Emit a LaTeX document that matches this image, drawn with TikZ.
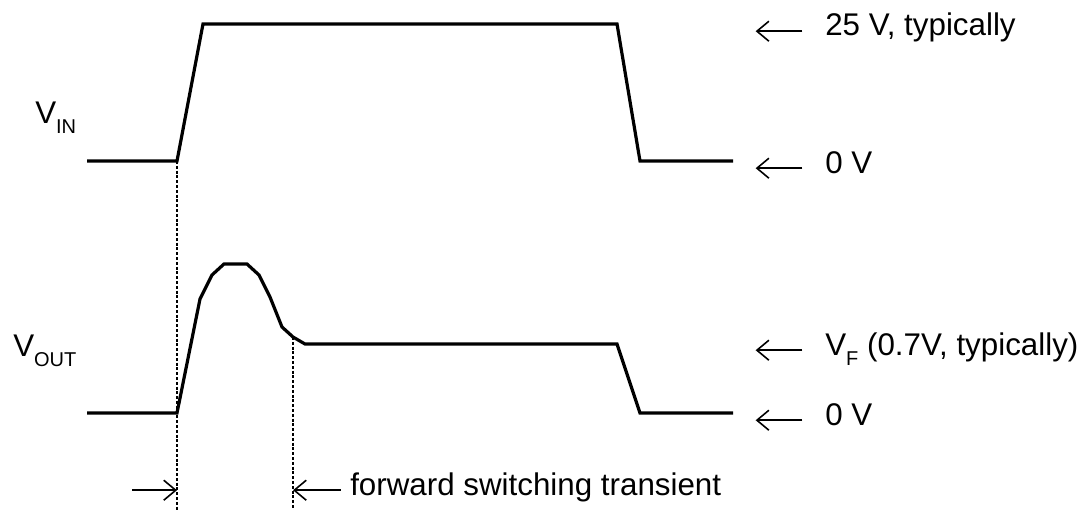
\documentclass[tikz,border=0pt]{standalone}
\usepackage{fontspec}
\setmainfont{Liberation Sans}
\usetikzlibrary{arrows.meta, positioning, calc}
\newcommand{\lowsub}[1]{\raisebox{-7.5pt}{\fontsize{15}{15}\selectfont #1}}
\tikzset{
    trace/.style={line width=2.4pt, line join=miter},
    marker/.style={line width=1.6pt, dash pattern=on 2.2pt off 1.4pt},
    pointer/.style={line width=1.2pt, -{Straight Barb[length=9pt, width=15pt]}},
    lbl/.style={font=\fontsize{23.5}{28}\selectfont, inner sep=0pt, text height=0.716em, text depth=0pt, anchor=base west},
}
\begin{document}
\begin{tikzpicture}[x=0.75pt, y=-0.75pt]
    \useasboundingbox (0,0) rectangle (1082,510);

    \draw[trace] (87,161) -- (177,161) coordinate (in0) -- (203,24) -- (617,24) -- (640,161) -- (733,161);
    \draw[trace] (87,413) -- (177,413) coordinate (out0) -- (200,299) -- (212,275) -- (224,264) -- (247,264)
        -- (259,275) -- (270,297) -- (282,327) -- (293,337) coordinate (outk) -- (305,344) -- (617,344) -- (640,413) -- (733,413);

    \coordinate (in0b) at (177,510);
    \coordinate (outkb) at (293,510);
    \draw[marker] (in0) -- (in0b);
    \draw[marker] (outk) -- (outkb);

    \node[lbl] (vin) at (35,123) {V\lowsub{IN}};
    \node[lbl] (vout) at (13,356) {V\lowsub{OUT}};

    \node[lbl] (hi) at (825,36) {25 V, typically};
    \node[lbl] (lo1) at (825,173) {0 V};
    \node[lbl] (vf) at (825,355) {V\lowsub{F} (0.7V, typically)};
    \node[lbl] (lo2) at (825,425) {0 V};
    \foreach \n in {hi, lo1, vf, lo2}
        \draw[pointer] ([xshift=-17pt]\n.west) -- ++(-35pt,0);

    \node[lbl] (fst) at (350,495) {forward switching transient};
    \coordinate (fstl) at (132,0);
    \draw[pointer] ([xshift=-7pt]fst.west) -- (outk |- fst.west);
    \draw[pointer] (fstl |- fst.west) -- (in0 |- fst.west);
\end{tikzpicture}
\end{document}
